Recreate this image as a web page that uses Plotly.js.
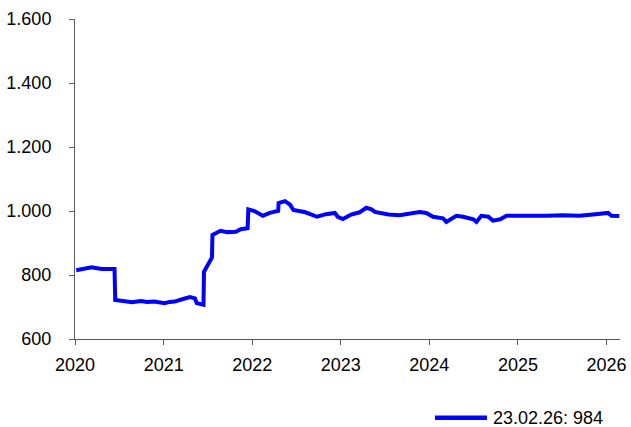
<!DOCTYPE html>
<html>
<head>
<meta charset="utf-8">
<script src="https://cdn.plot.ly/plotly-3.0.1.min.js"></script>
<style>html,body{margin:0;padding:0;background:#fff;}#chart{width:631px;height:427px;}</style>
</head>
<body>
<div id="chart"></div>
<script>
const dates = [
"2020-01-06","2020-02-10","2020-03-09","2020-04-20","2020-05-25","2020-06-12","2020-06-15","2020-07-13","2020-08-24","2020-09-28","2020-10-26","2020-11-23",
"2021-01-04","2021-01-25","2021-02-15","2021-03-22","2021-04-19","2021-05-10","2021-05-17","2021-06-14","2021-06-16","2021-07-19","2021-07-21","2021-08-23","2021-09-20","2021-10-25","2021-11-15","2021-12-13","2021-12-16",
"2022-01-10","2022-02-14","2022-03-14","2022-04-18","2022-04-20","2022-05-16","2022-06-06","2022-06-20","2022-08-08","2022-09-26","2022-11-01","2022-12-08","2022-12-20",
"2023-01-10","2023-02-13","2023-03-20","2023-04-16","2023-05-08","2023-05-22","2023-07-17","2023-09-01","2023-10-12","2023-11-22","2023-12-20",
"2024-01-17","2024-02-27","2024-03-12","2024-04-22","2024-05-20","2024-07-01","2024-07-14","2024-08-03","2024-09-01","2024-09-20","2024-10-20","2024-11-15","2024-12-27",
"2025-02-20","2025-04-30","2025-07-05","2025-09-12","2025-11-06","2025-12-20","2026-01-08","2026-01-22","2026-02-23"
];
const values = [
815,820,824,819,817,819,722,718,715,719,716,717,
712,716,717,725,731,727,712,707,810,855,925,938,934,935,943,946,1005,
1000,985,994,1000,1025,1031,1020,1003,996,982,990,994,982,
975,989,996,1010,1005,997,989,987,992,997,994,
982,977,966,985,982,974,966,985,982,970,974,985,985,
982,985,987,985,989,994,994,985,984
];
const seriesName = "23.02.26: 984";
const yTicks = [600,800,1000,1200,1400,1600];
const yTickText = ["600","800","1.000","1.200","1.400","1.600"];
const xTicks = ["2020-01-01","2021-01-01","2022-01-01","2023-01-01","2024-01-01","2025-01-01","2026-01-01"];
const xTickText = ["2020","2021","2022","2023","2024","2025","2026"];

const font = {family: "Liberation Sans, Arial, sans-serif", size: 18, color: "#000"};
const trace = {
  x: dates, y: values, type: "scatter", mode: "lines", name: seriesName,
  line: {color: "#0000FF", width: 4}, showlegend: false
};
const layout = {
  width: 631, height: 427,
  margin: {l: 75, r: 11, t: 19, b: 88},
  paper_bgcolor: "#fff", plot_bgcolor: "#fff",
  font: font,
  xaxis: {
    type: "date", range: ["2020-01-01","2026-02-26"],
    tickvals: xTicks, ticktext: xTickText,
    showgrid: false, zeroline: false,
    showline: true, linecolor: "#5a5a5a", linewidth: 1,
    ticks: "outside", ticklen: 5, tickcolor: "#5a5a5a",
    ticklabelstandoff: 4,
    tickfont: font
  },
  yaxis: {
    range: [600,1600], tickvals: yTicks, ticktext: yTickText,
    showgrid: false, zeroline: false,
    showline: true, linecolor: "#5a5a5a", linewidth: 1,
    ticks: "outside", ticklen: 5, tickcolor: "#5a5a5a",
    ticklabelstandoff: 14,
    tickfont: font
  },
  shapes: [{
    type: "line", xref: "paper", yref: "paper",
    x0: (435-75)/545, x1: (487-75)/545, y0: -(419-340)/321, y1: -(419-340)/321,
    line: {color: "#0000FF", width: 4.3}
  }],
  annotations: [{
    xref: "paper", yref: "paper", x: (491-75)/545, y: -(419-340)/321,
    xanchor: "left", yanchor: "middle", showarrow: false,
    text: seriesName, font: font
  }]
};
Plotly.newPlot("chart", [trace], layout, {displayModeBar: false, staticPlot: true});
</script>
</body>
</html>
